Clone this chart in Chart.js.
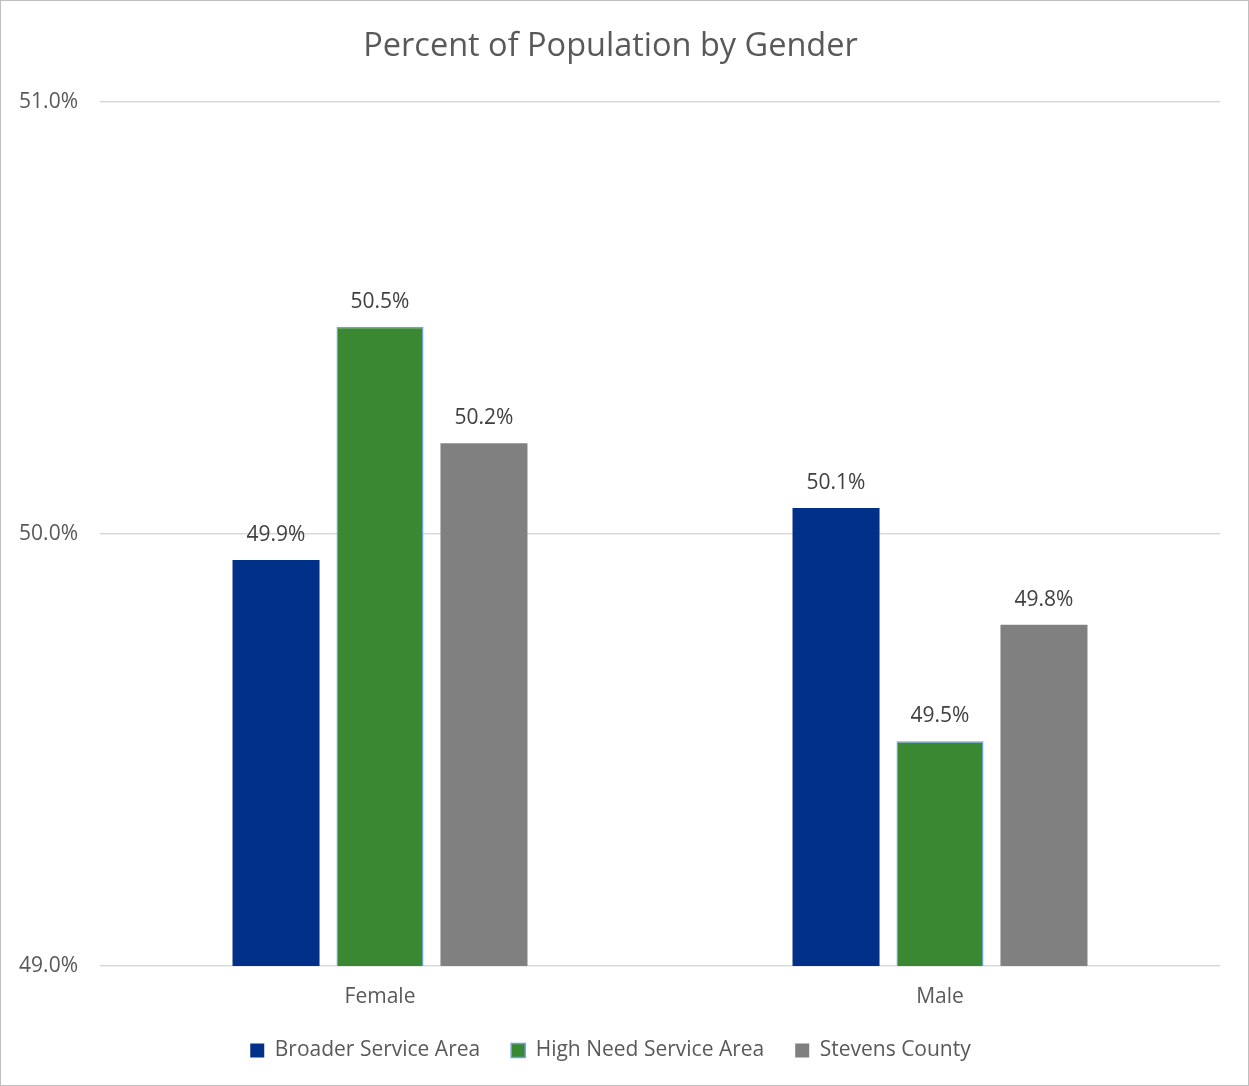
<!DOCTYPE html>
<html>
<head>
<meta charset="utf-8">
<script src="https://cdn.jsdelivr.net/npm/chart.js@4"></script>
<style>
  html, body { margin: 0; padding: 0; background: #fff; }
  #wrap { position: absolute; left: 0; top: 0; width: 1249px; height: 1086px; box-sizing: border-box; border: 1px solid #bfbfbf; }
</style>
</head>
<body>
<div id="wrap"><canvas id="chart"></canvas></div>
<script>
'use strict';

var categories = ['Female', 'Male'];
var seriesNames = ['Broader Service Area', 'High Need Service Area', 'Stevens County'];
var broaderValues = [49.94, 50.06];
var highNeedValues = [50.48, 49.52];
var stevensValues = [50.21, 49.79];
var yTicks = [49, 50, 51];

var FONT = "'Open Sans', 'Noto Sans', sans-serif";

// draws the value above each bar
var barLabels = {
	id: 'barLabels',
	afterDatasetsDraw: function(chart) {
		var ctx = chart.ctx;
		ctx.save();
		ctx.font = '21px ' + FONT;
		ctx.fillStyle = '#404040';
		ctx.textAlign = 'center';
		ctx.textBaseline = 'middle';
		chart.data.datasets.forEach(function(ds, i) {
			chart.getDatasetMeta(i).data.forEach(function(bar, j) {
				ctx.fillText(ds.data[j].toFixed(1) + '%', bar.x, bar.y - 25);
			});
		});
		ctx.restore();
	}
};

var ctx = document.getElementById('chart').getContext('2d');
var chart = new Chart(ctx, {
	type: 'bar',
	data: {
		labels: categories,
		datasets: [{
			label: seriesNames[0],
			data: broaderValues,
			backgroundColor: '#003087',
			borderWidth: 0
		}, {
			label: seriesNames[1],
			data: highNeedValues,
			backgroundColor: '#3a8832',
			borderColor: '#6fa3dc',
			borderWidth: 1.5
		}, {
			label: seriesNames[2],
			data: stevensValues,
			backgroundColor: '#808080',
			borderWidth: 0
		}]
	},
	options: {
		responsive: true,
		maintainAspectRatio: false,
		animation: false,
		categoryPercentage: 0.557,
		barPercentage: 0.837,
		layout: {
			padding: { left: 0, right: 28, top: 10, bottom: 14 }
		},
		plugins: {
			title: {
				display: true,
				text: 'Percent of Population by Gender',
				color: '#595959',
				font: { family: FONT, size: 32.5, weight: 'normal' },
				padding: { top: 16.5, bottom: 35.5 }
			},
			legend: {
				position: 'bottom',
				labels: {
					color: '#595959',
					font: { family: FONT, size: 21 },
					boxWidth: 14,
					boxHeight: 14,
					padding: 31
				}
			},
			tooltip: { enabled: false }
		},
		scales: {
			x: {
				grid: { display: false, drawTicks: false },
				border: { display: false },
				ticks: {
					color: '#595959',
					font: { family: FONT, size: 21 },
					padding: 18
				},
				afterFit: function(scale) { scale.height = 43; }
			},
			y: {
				min: 49,
				max: 51,
				afterBuildTicks: function(axis) {
					axis.ticks = yTicks.map(function(v) { return { value: v }; });
				},
				grid: { color: '#d9d9d9', lineWidth: 1.5, drawTicks: false },
				border: { display: false },
				ticks: {
					color: '#595959',
					font: { family: FONT, size: 21 },
					padding: 22,
					callback: function(v) { return v.toFixed(1) + '%'; }
				},
				afterFit: function(scale) { scale.width = 99; }
			}
		}
	},
	plugins: [barLabels]
});
</script>
</body>
</html>
